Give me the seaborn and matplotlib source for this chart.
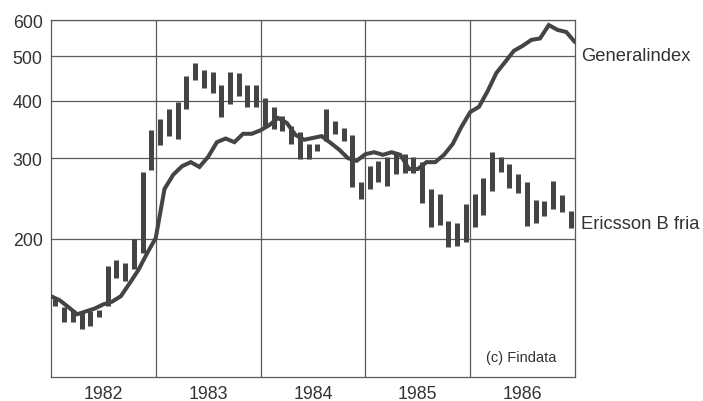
import numpy as np
import pandas as pd
import seaborn as sns
from matplotlib import pyplot as plt
from matplotlib.ticker import FixedLocator, NullLocator

# Ericsson B fria, monthly low / high, 1982-1986
eric_low = [143, 132, 132, 127, 129, 135, 143, 164, 162, 172, 186, 283,
            320, 336, 331, 383, 443, 426, 417, 368, 394, 410, 387, 387,
            353, 347, 344, 322, 299, 299, 311, 327, 339, 327, 259, 244,
            257, 266, 261, 277, 279, 279, 240, 212, 214, 192, 193, 197,
            212, 225, 254, 280, 258, 252, 213, 217, 224, 232, 229, 211]
eric_high = [148, 142, 140, 139, 139, 140, 175, 180, 177, 200, 280, 346,
             365, 384, 398, 452, 483, 468, 462, 432, 462, 459, 432, 434,
             405, 387, 371, 353, 342, 322, 322, 384, 362, 349, 337, 266,
             289, 296, 301, 309, 306, 301, 294, 257, 251, 219, 217, 238,
             251, 271, 309, 302, 291, 277, 266, 243, 242, 268, 249, 230]

# Generalindex at month ends (61 values, Jan 1982 .. Dec 1986)
gen_index = [150, 147, 142, 137, 139, 141, 144, 146, 150, 160, 171, 186,
             201, 257, 276, 288, 294, 287, 302, 325, 331, 325, 339, 339,
             345, 354, 367, 358, 337, 329, 332, 335, 324, 313, 300, 296,
             306, 309, 305, 309, 305, 284, 284, 294, 294, 305, 322, 351,
             378, 388, 420, 460, 486, 514, 527, 543, 547, 585, 571, 565,
             537]

years = [1982, 1983, 1984, 1985, 1986]
yticks = [200, 300, 400, 500, 600]

eric = pd.DataFrame({"month": np.arange(len(eric_low)), "low": eric_low, "high": eric_high})
eric["t"] = years[0] + (eric["month"] + 0.5) / 12
gen = pd.DataFrame({"k": np.arange(len(gen_index)), "value": gen_index})
gen["t"] = years[0] + gen["k"] / 12

sns.set_style("white")
plt.rcParams['font.family'] = ['Liberation Sans', 'DejaVu Sans']

ink = "#444444"
grid = "#5a5a5a"

fig = plt.figure(figsize=(7.03, 4.02), dpi=100)
ax = fig.add_axes([0.0725, 0.0597, 0.7454, 0.888])

ax.set_yscale("log")
ax.set_xlim(years[0], years[-1] + 1)
ax.set_ylim(100, 600)

# grid
for yv in yticks:
    ax.axhline(yv, color=grid, lw=0.9, zorder=1)
for yr in years[1:]:
    ax.axvline(yr, color=grid, lw=0.9, zorder=1)

ax.vlines(eric["t"], eric["low"], eric["high"], color=ink, lw=3.6, zorder=3)
sns.lineplot(data=gen, x="t", y="value", ax=ax, color=ink, lw=2.9, zorder=4,
             solid_joinstyle="miter")

ax.yaxis.set_major_locator(FixedLocator(yticks))
ax.yaxis.set_minor_locator(NullLocator())
ax.set_yticklabels([str(v) for v in yticks])
ax.xaxis.set_major_locator(FixedLocator([y + 0.5 for y in years]))
ax.set_xticklabels([str(y) for y in years])
ax.tick_params(axis="both", length=0, labelsize=12.8, labelcolor="#333333")
ax.tick_params(axis="y", pad=6)
ax.tick_params(axis="x", pad=6)
ax.set_xlabel("")
ax.set_ylabel("")

for s in ax.spines.values():
    s.set_color(grid)
    s.set_linewidth(0.9)

ax.text(1.012, 0.9, "Generalindex", transform=ax.transAxes, fontsize=13.2,
        color="#333333", va="center", ha="left")
ax.text(1.012, 0.43, "Ericsson B fria", transform=ax.transAxes, fontsize=13.2,
        color="#333333", va="center", ha="left")
ax.text(0.898, 0.055, "(c) Findata", transform=ax.transAxes, fontsize=10.5,
        color="#333333", va="center", ha="center")

fig.savefig("out.png", dpi=100)
